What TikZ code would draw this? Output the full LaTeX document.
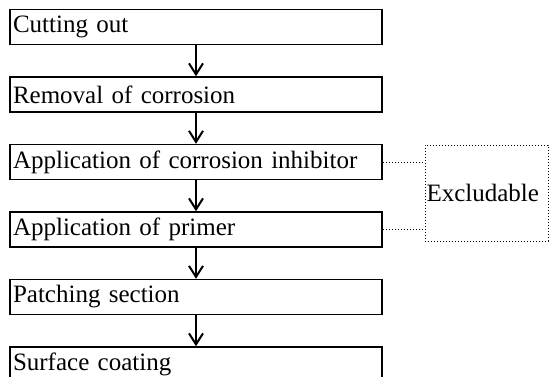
\documentclass[tikz,border=0pt]{standalone}
\usepackage{fontspec}
\setmainfont{Liberation Serif}
\usepackage{tikz}
\usetikzlibrary{positioning, arrows.meta}
\tikzset{
	stepbox/.append style={
		draw,
		line width=1.5pt,
		minimum width=372pt,
		minimum height=35pt,
		text width=366pt,
		inner sep=2pt,
		align=left,
		font={\fontsize{25}{28}\selectfont}
	},
	optbox/.append style={
		draw,
		dotted,
		line width=1pt,
		minimum width=123pt,
		minimum height=96pt,
		text width=120pt,
		inner sep=1pt,
		align=left,
		font={\fontsize{25}{28}\selectfont}
	},
	flow/.append style={
		line width=1.3pt,
		-{Straight Barb[length=11pt,width=14pt,line width=2pt]}
	}
}

\begin{document}
\begin{tikzpicture}[
	node distance = 31pt
	]
	\useasboundingbox (0,0) rectangle (549pt,-376pt);
	\node[stepbox] at (196pt,-27pt) (cut){Cutting out};
	\node[stepbox, below = of cut](rem){Removal of corrosion};
	\node[stepbox, below = of rem](inh){Application of corrosion inhibitor};
	\node[stepbox, below = of inh](prim){Application of primer};
	\node[stepbox, below = of prim](patch){Patching section};
	\node[stepbox, below = of patch](coat){Surface coating};
	% steps that may be left out
	\node[optbox] at (486.5pt,-193pt) (excl){Excludable};
	
	\draw[flow] (cut) to (rem);
	\draw[flow] (rem) to (inh);
	\draw[flow] (inh) to (prim);
	\draw[flow] (prim) to (patch);
	\draw[flow] (patch) to (coat);
	
	\draw[dotted, line width=1pt] (inh.east) to (inh.east -| excl.west);
	\draw[dotted, line width=1pt] (prim.east) to (prim.east -| excl.west);
\end{tikzpicture}
\end{document}
